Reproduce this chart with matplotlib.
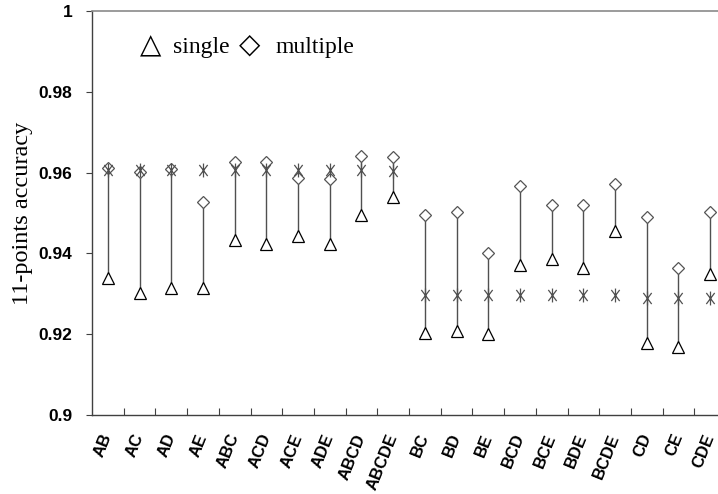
import matplotlib
matplotlib.use("Agg")
import matplotlib.pyplot as plt
from matplotlib.path import Path
import numpy as np

combos = ['AB', 'AC', 'AD', 'AE', 'ABC', 'ACD', 'ACE', 'ADE', 'ABCD', 'ABCDE',
          'BC', 'BD', 'BE', 'BCD', 'BCE', 'BDE', 'BCDE', 'CD', 'CE', 'CDE']
single = [0.9339, 0.9301, 0.9314, 0.9314, 0.9433, 0.9423, 0.9444, 0.9423, 0.9495, 0.9539,
          0.9204, 0.9209, 0.9200, 0.9371, 0.9386, 0.9363, 0.9456, 0.9177, 0.9168, 0.9348]
multiple = [0.9611, 0.9601, 0.9609, 0.9526, 0.9627, 0.9627, 0.9586, 0.9584, 0.9641, 0.9638,
            0.9495, 0.9502, 0.9400, 0.9567, 0.9520, 0.9521, 0.9572, 0.9491, 0.9365, 0.9503]
base = [0.9606, 0.9606, 0.9606, 0.9606, 0.9606, 0.9606, 0.9606, 0.9606, 0.9606, 0.9605,
        0.9296, 0.9296, 0.9296, 0.9296, 0.9296, 0.9297, 0.9297, 0.9289, 0.9289, 0.9289]
yticks = [0.9, 0.92, 0.94, 0.96, 0.98, 1.0]
ytick_labels = ['0.9', '0.92', '0.94', '0.96', '0.98', '1']

# asterisk: vertical stroke plus a steep X
star = Path([(0, -1), (0, 1), (-0.6, -0.8), (0.6, 0.8), (-0.6, 0.8), (0.6, -0.8)],
            [Path.MOVETO, Path.LINETO] * 3)

fig = plt.figure(figsize=(7.18, 4.94), dpi=100)
ax = fig.add_axes([92 / 718, 79 / 494, 634 / 718, 404 / 494])

x = np.arange(len(combos))
ax.vlines(x, single, multiple, color='#505050', lw=1, zorder=1)
ax.plot(x, single, ls='none', marker='^', ms=8, mfc='white', mec='black',
        mew=0.9, zorder=2)
ax.plot(x, multiple, ls='none', marker='D', ms=6, mfc='white', mec='#555555',
        mew=0.9, zorder=3)
ax.plot(x, base, ls='none', marker=star, ms=10, color='#505050',
        mew=0.9, zorder=4)

ax.set_xlim(-0.5, len(combos) - 0.5)
ax.set_ylim(0.9, 1.0)

ax.set_yticks(yticks, ytick_labels, fontfamily='Liberation Sans',
              fontweight='bold', fontsize=12.5)
ax.tick_params(axis='y', direction='out', length=4, width=0.8, pad=10,
               color='#404040')

ax.set_xticks(x, combos, rotation=68, ha='right', va='center',
              rotation_mode='anchor', fontfamily='Liberation Sans',
              fontweight='bold', fontsize=12)
ax.set_xticks(np.arange(0.5, len(combos) - 0.5), minor=True)
ax.tick_params(axis='x', which='major', length=0, pad=14)
ax.tick_params(axis='x', which='minor', direction='in', length=5, width=0.8,
               color='#404040')

ax.set_ylabel('11-points accuracy', fontfamily='Liberation Serif',
              fontsize=17.5, labelpad=4)

for s in ['left', 'bottom']:
    ax.spines[s].set_color('#404040')
    ax.spines[s].set_linewidth(1)
ax.spines['top'].set_color('#8a8a8a')
ax.spines['top'].set_linewidth(1.2)
ax.spines['right'].set_visible(False)

# legend drawn as text pieces, as in the original
leg_y = 0.896
for xpx, txt in [(140, '\u25b3'), (173, 'single'), (239, '\u25c7'), (276, 'multiple')]:
    ax.text((xpx - 92) / 634, leg_y, txt, transform=ax.transAxes,
            va='baseline', ha='left', fontsize=20 if len(txt) == 1 else 17,
            family=['Liberation Serif', 'DejaVu Sans'])

fig.savefig('out.png', dpi=100)
